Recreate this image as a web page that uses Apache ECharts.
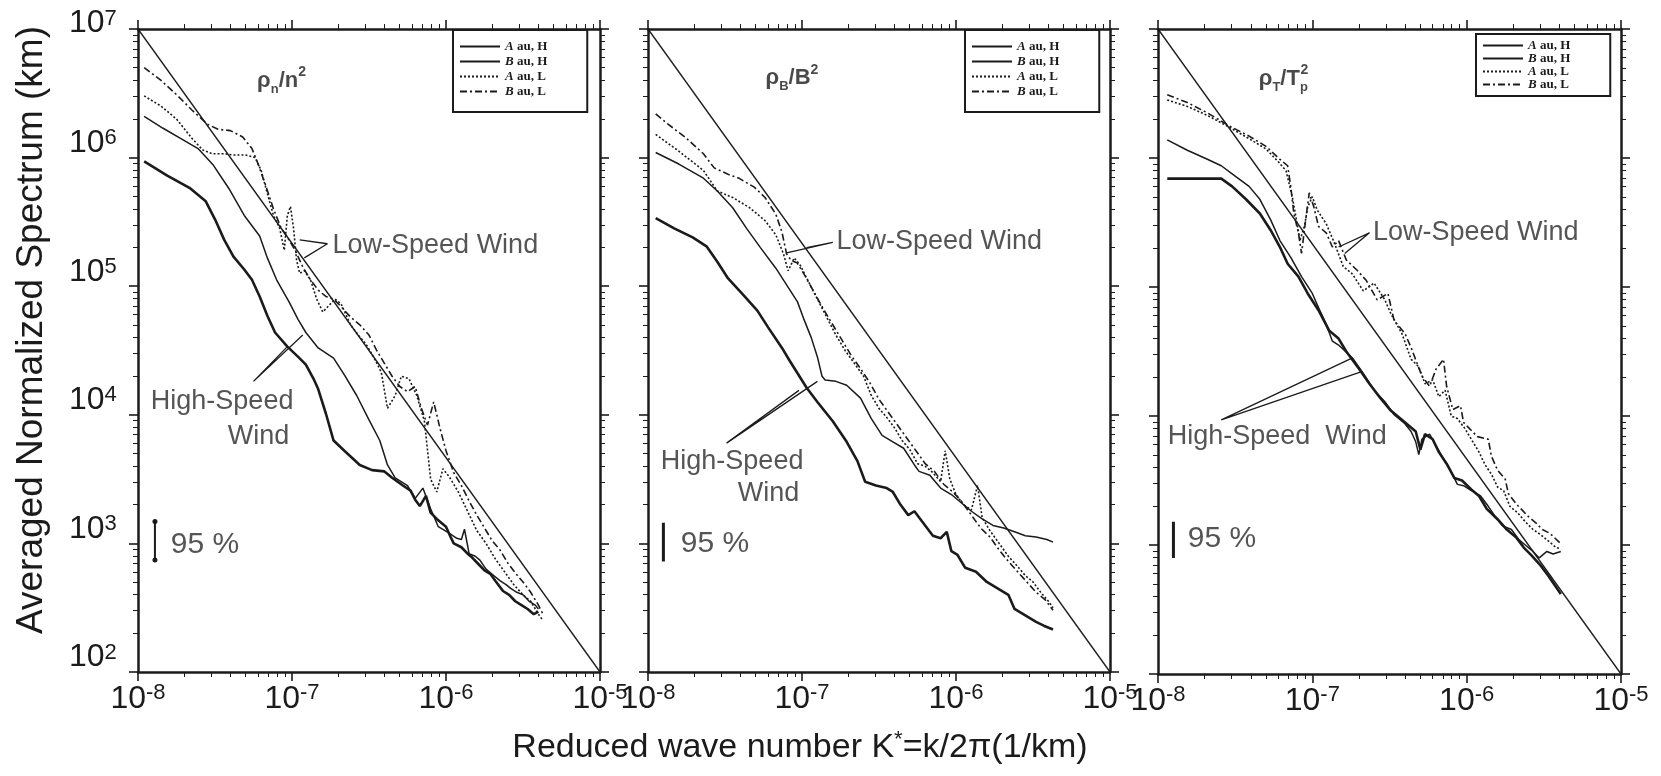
<!DOCTYPE html>
<html>
<head>
<meta charset="utf-8">
<title>Averaged normalized spectra</title>
<script src="https://cdn.jsdelivr.net/npm/echarts@6/dist/echarts.min.js"></script>
<style>
  html, body { margin: 0; padding: 0; background: #fff; }
  #chart { width: 1661px; height: 776px; }
</style>
</head>
<body>
<div id="chart"></div>
<script>
// every curve is kept as [log10 k*, log10 spectrum] pairs
const K_RANGE = [-8, -5];
const S_RANGE = [2, 7];
const LEGEND_NAMES = ['A au, H', 'B au, H', 'A au, L', 'B au, L'];
const REF_LINE = [[-8, 7], [-5, 2]];

// panel 1 : rho_n / n^2
const n_AH = [[-7.96,5.97],[-7.81,5.86],[-7.66,5.76],[-7.56,5.66],[-7.50,5.52],[-7.44,5.36],[-7.38,5.23],[-7.31,5.13],[-7.26,5.05],[-7.21,4.92],[-7.16,4.77],[-7.11,4.64],[-7.03,4.53],[-6.96,4.45],[-6.91,4.39],[-6.86,4.28],[-6.83,4.20],[-6.78,4.01],[-6.73,3.80],[-6.66,3.72],[-6.56,3.61],[-6.48,3.57],[-6.40,3.56],[-6.35,3.51],[-6.28,3.45],[-6.23,3.41],[-6.20,3.34],[-6.17,3.29],[-6.13,3.37],[-6.10,3.24],[-6.06,3.19],[-6.00,3.13],[-5.97,3.05],[-5.95,3.00],[-5.90,2.97],[-5.86,2.92],[-5.83,2.89],[-5.79,2.84],[-5.75,2.79],[-5.71,2.76],[-5.68,2.71],[-5.63,2.63],[-5.59,2.60],[-5.55,2.55],[-5.51,2.52],[-5.47,2.49],[-5.43,2.45],[-5.40,2.47]];
const n_BH = [[-7.96,6.32],[-7.84,6.23],[-7.71,6.14],[-7.61,6.07],[-7.51,5.94],[-7.41,5.76],[-7.31,5.55],[-7.21,5.39],[-7.16,5.22],[-7.10,5.05],[-7.02,4.88],[-6.96,4.74],[-6.91,4.64],[-6.83,4.52],[-6.73,4.44],[-6.66,4.31],[-6.58,4.15],[-6.50,3.96],[-6.43,3.80],[-6.38,3.61],[-6.33,3.51],[-6.25,3.45],[-6.20,3.35],[-6.15,3.43],[-6.10,3.27],[-6.05,3.13],[-5.98,3.08],[-5.93,3.04],[-5.90,3.03],[-5.88,3.11],[-5.85,2.92],[-5.81,2.90],[-5.78,2.87],[-5.74,2.80],[-5.70,2.76],[-5.65,2.71],[-5.61,2.68],[-5.58,2.65],[-5.54,2.62],[-5.50,2.60],[-5.46,2.55],[-5.42,2.52],[-5.40,2.49]];
const n_AL = [[-7.96,6.48],[-7.85,6.40],[-7.75,6.30],[-7.65,6.15],[-7.58,6.06],[-7.52,6.03],[-7.45,6.03],[-7.38,6.02],[-7.30,6.02],[-7.24,6.00],[-7.20,5.90],[-7.16,5.72],[-7.12,5.55],[-7.08,5.45],[-7.05,5.28],[-7.03,5.55],[-7.01,5.62],[-6.99,5.45],[-6.97,5.20],[-6.95,5.10],[-6.92,5.12],[-6.88,5.05],[-6.84,4.90],[-6.80,4.80],[-6.76,4.85],[-6.72,4.90],[-6.68,4.86],[-6.62,4.70],[-6.57,4.62],[-6.52,4.55],[-6.47,4.45],[-6.42,4.33],[-6.38,4.05],[-6.33,4.15],[-6.29,4.30],[-6.24,4.28],[-6.19,4.15],[-6.14,3.95],[-6.10,3.50],[-6.06,3.40],[-6.02,3.58],[-5.98,3.52],[-5.92,3.40],[-5.86,3.25],[-5.80,3.10],[-5.74,3.00],[-5.68,2.88],[-5.62,2.78],[-5.56,2.68],[-5.50,2.60],[-5.45,2.55],[-5.40,2.45],[-5.37,2.40]];
const n_BL = [[-7.96,6.70],[-7.85,6.60],[-7.75,6.49],[-7.65,6.37],[-7.55,6.26],[-7.48,6.22],[-7.40,6.21],[-7.32,6.16],[-7.26,6.07],[-7.22,5.95],[-7.17,5.78],[-7.12,5.60],[-7.07,5.45],[-7.03,5.38],[-6.98,5.28],[-6.93,5.15],[-6.88,5.05],[-6.83,4.97],[-6.78,4.92],[-6.73,4.90],[-6.68,4.84],[-6.62,4.76],[-6.56,4.70],[-6.50,4.62],[-6.45,4.50],[-6.40,4.40],[-6.35,4.30],[-6.30,4.22],[-6.25,4.18],[-6.20,4.22],[-6.16,4.05],[-6.12,3.92],[-6.08,4.10],[-6.04,3.90],[-6.00,3.72],[-5.95,3.55],[-5.90,3.45],[-5.85,3.33],[-5.80,3.22],[-5.75,3.12],[-5.70,3.02],[-5.65,2.95],[-5.60,2.85],[-5.55,2.77],[-5.50,2.70],[-5.45,2.62],[-5.40,2.52],[-5.37,2.45]];

// panel 2 : rho_B / B^2
const b_AH = [[-7.95,5.53],[-7.83,5.45],[-7.71,5.38],[-7.62,5.31],[-7.55,5.19],[-7.48,5.06],[-7.38,4.93],[-7.29,4.81],[-7.22,4.68],[-7.13,4.52],[-7.08,4.42],[-6.97,4.21],[-6.90,4.10],[-6.80,3.95],[-6.71,3.79],[-6.64,3.64],[-6.59,3.48],[-6.52,3.45],[-6.45,3.43],[-6.41,3.40],[-6.36,3.30],[-6.31,3.22],[-6.27,3.25],[-6.22,3.17],[-6.15,3.06],[-6.10,3.04],[-6.06,3.09],[-6.03,2.94],[-5.99,2.91],[-5.94,2.81],[-5.87,2.78],[-5.80,2.70],[-5.73,2.65],[-5.66,2.60],[-5.62,2.49],[-5.55,2.44],[-5.48,2.39],[-5.43,2.36],[-5.37,2.33]];
const b_BH = [[-7.95,6.04],[-7.80,5.95],[-7.64,5.84],[-7.55,5.74],[-7.45,5.61],[-7.36,5.45],[-7.27,5.30],[-7.17,5.14],[-7.10,5.01],[-7.03,4.88],[-6.99,4.75],[-6.94,4.60],[-6.90,4.45],[-6.87,4.30],[-6.85,4.27],[-6.78,4.26],[-6.71,4.23],[-6.62,4.13],[-6.55,3.97],[-6.48,3.84],[-6.41,3.79],[-6.34,3.74],[-6.27,3.61],[-6.24,3.56],[-6.17,3.53],[-6.10,3.43],[-6.03,3.38],[-5.97,3.32],[-5.90,3.25],[-5.83,3.19],[-5.76,3.14],[-5.69,3.12],[-5.62,3.09],[-5.55,3.06],[-5.48,3.05],[-5.41,3.03],[-5.37,3.01]];
const b_AL = [[-7.95,6.18],[-7.80,6.05],[-7.64,5.90],[-7.55,5.74],[-7.45,5.69],[-7.34,5.61],[-7.24,5.51],[-7.17,5.40],[-7.12,5.25],[-7.09,5.12],[-7.05,5.22],[-7.01,5.16],[-6.96,5.04],[-6.90,4.90],[-6.84,4.76],[-6.78,4.62],[-6.72,4.50],[-6.66,4.40],[-6.60,4.30],[-6.55,4.15],[-6.50,4.05],[-6.45,3.98],[-6.40,3.90],[-6.35,3.80],[-6.30,3.73],[-6.25,3.62],[-6.20,3.60],[-6.15,3.55],[-6.10,3.48],[-6.07,3.72],[-6.04,3.50],[-6.00,3.38],[-5.95,3.30],[-5.90,3.26],[-5.86,3.45],[-5.83,3.20],[-5.78,3.10],[-5.72,3.00],[-5.66,2.90],[-5.60,2.82],[-5.55,2.75],[-5.50,2.70],[-5.45,2.62],[-5.40,2.55],[-5.37,2.50]];
const b_BL = [[-7.95,6.34],[-7.87,6.26],[-7.76,6.16],[-7.64,6.03],[-7.57,5.92],[-7.48,5.87],[-7.41,5.84],[-7.31,5.77],[-7.24,5.69],[-7.17,5.56],[-7.13,5.42],[-7.10,5.25],[-7.07,5.20],[-7.03,5.18],[-6.98,5.08],[-6.92,4.95],[-6.86,4.82],[-6.80,4.70],[-6.74,4.58],[-6.68,4.46],[-6.62,4.36],[-6.56,4.25],[-6.50,4.12],[-6.44,4.02],[-6.38,3.92],[-6.32,3.82],[-6.26,3.72],[-6.20,3.62],[-6.14,3.56],[-6.08,3.46],[-6.02,3.40],[-5.96,3.32],[-5.90,3.22],[-5.84,3.12],[-5.78,3.05],[-5.72,2.95],[-5.66,2.86],[-5.60,2.78],[-5.54,2.70],[-5.48,2.62],[-5.42,2.56],[-5.37,2.48]];

// panel 3 : rho_T / Tp^2
const t_AH = [[-7.94,5.84],[-7.59,5.84],[-7.52,5.78],[-7.43,5.68],[-7.34,5.57],[-7.27,5.44],[-7.21,5.31],[-7.16,5.18],[-7.09,5.08],[-7.03,4.95],[-6.96,4.82],[-6.89,4.66],[-6.83,4.60],[-6.78,4.50],[-6.70,4.37],[-6.63,4.25],[-6.56,4.14],[-6.49,4.04],[-6.42,3.97],[-6.37,3.92],[-6.33,3.88],[-6.30,3.74],[-6.27,3.86],[-6.22,3.82],[-6.18,3.72],[-6.13,3.63],[-6.08,3.52],[-6.03,3.50],[-5.97,3.43],[-5.92,3.38],[-5.87,3.28],[-5.80,3.20],[-5.74,3.12],[-5.68,3.06],[-5.63,2.98],[-5.58,2.92],[-5.52,2.84],[-5.47,2.76],[-5.43,2.69],[-5.39,2.62]];
const t_BH = [[-7.94,6.14],[-7.81,6.06],[-7.68,5.99],[-7.59,5.94],[-7.50,5.86],[-7.41,5.78],[-7.34,5.68],[-7.27,5.52],[-7.21,5.36],[-7.14,5.23],[-7.07,5.08],[-7.00,4.95],[-6.96,4.84],[-6.91,4.71],[-6.87,4.58],[-6.83,4.55],[-6.74,4.45],[-6.67,4.33],[-6.60,4.20],[-6.53,4.11],[-6.47,4.01],[-6.40,3.94],[-6.36,3.88],[-6.33,3.80],[-6.31,3.70],[-6.29,3.82],[-6.24,3.86],[-6.20,3.77],[-6.15,3.67],[-6.11,3.59],[-6.06,3.47],[-6.02,3.46],[-5.98,3.43],[-5.91,3.38],[-5.86,3.30],[-5.82,3.23],[-5.77,3.15],[-5.71,3.12],[-5.66,3.04],[-5.62,3.00],[-5.57,2.95],[-5.53,2.90],[-5.48,2.95],[-5.44,2.93],[-5.39,2.95]];
const t_AL = [[-7.94,6.45],[-7.81,6.40],[-7.68,6.33],[-7.54,6.24],[-7.41,6.15],[-7.30,6.07],[-7.22,5.97],[-7.17,5.90],[-7.13,5.70],[-7.10,5.50],[-7.08,5.36],[-7.05,5.48],[-7.03,5.62],[-7.00,5.70],[-6.97,5.60],[-6.91,5.49],[-6.86,5.35],[-6.80,5.16],[-6.74,5.10],[-6.67,4.97],[-6.60,5.03],[-6.53,4.90],[-6.49,4.79],[-6.42,4.64],[-6.36,4.44],[-6.31,4.38],[-6.27,4.25],[-6.22,4.28],[-6.18,4.15],[-6.14,4.20],[-6.10,4.00],[-6.06,3.98],[-6.01,3.90],[-5.96,3.80],[-5.92,3.72],[-5.88,3.62],[-5.84,3.55],[-5.80,3.45],[-5.76,3.42],[-5.72,3.30],[-5.67,3.25],[-5.62,3.18],[-5.57,3.12],[-5.52,3.08],[-5.47,3.03],[-5.42,2.98],[-5.39,2.97]];
const t_BL = [[-7.94,6.49],[-7.81,6.43],[-7.68,6.35],[-7.54,6.25],[-7.41,6.17],[-7.30,6.09],[-7.21,5.99],[-7.16,5.94],[-7.14,5.78],[-7.12,5.57],[-7.09,5.42],[-7.07,5.26],[-7.04,5.55],[-7.02,5.73],[-6.99,5.62],[-6.96,5.47],[-6.91,5.42],[-6.87,5.31],[-6.83,5.36],[-6.78,5.21],[-6.71,5.13],[-6.65,5.05],[-6.58,4.90],[-6.51,4.95],[-6.47,4.74],[-6.40,4.64],[-6.36,4.53],[-6.29,4.31],[-6.24,4.23],[-6.20,4.36],[-6.15,4.44],[-6.13,4.23],[-6.09,4.05],[-6.04,4.08],[-6.02,3.95],[-5.98,3.90],[-5.93,3.84],[-5.86,3.82],[-5.84,3.69],[-5.80,3.58],[-5.75,3.51],[-5.73,3.40],[-5.68,3.32],[-5.64,3.27],[-5.60,3.22],[-5.55,3.17],[-5.51,3.12],[-5.46,3.09],[-5.39,3.01]];

// 95 % error bars
const ERR_BARS = [
  [[-7.89, 3.17], [-7.89, 2.87]],
  [[-7.90, 3.16], [-7.90, 2.86]],
  [[-7.90, 3.18], [-7.90, 2.90]]
];

const INK = '#1b1b1b';
const SANS = '"Liberation Sans", Arial, sans-serif';
const SERIF = '"Liberation Serif", "Times New Roman", serif';

const GRIDS = [
  { left: 138, top: 29, width: 462, height: 643 },
  { left: 648, top: 29, width: 462, height: 643 },
  { left: 1158, top: 29, width: 463, height: 645 }
];

const CURVE_STYLES = [
  { width: 2.6, type: 'solid' },
  { width: 1.5, type: 'solid' },
  { width: 1.6, type: [2, 2] },
  { width: 1.6, type: [7, 3, 2, 3] }
];

// annotation placement, in the same log units as the data
const PANELS = [
  {
    curves: [n_AH, n_BH, n_AL, n_BL],
    title: '{b|ρ}{sub|n}{b|/n}{sup|2}', titleAt: [-7.23, 6.60],
    low: { at: [-6.74, 5.32], lines: [[-6.95, 5.36], [-6.77, 5.33], [-6.92, 5.22]] },
    high: [{ text: 'High-Speed', at: [-7.92, 4.10] }, { text: 'Wind', at: [-7.42, 3.83] }],
    highLines: [[-7.03, 4.53], [-7.25, 4.26], [-6.93, 4.62]],
    pct: [-7.79, 2.99], arrows: true,
    legend: { left: 453, top: 30, padding: [10, 40, 14, 6], itemGap: 2 }
  },
  {
    curves: [b_AH, b_BH, b_AL, b_BL],
    title: '{b|ρ}{sub|B}{b|/B}{sup|2}', titleAt: [-7.24, 6.62],
    low: { at: [-6.78, 5.35], lines: [[-7.10, 5.26], [-6.80, 5.34], [-6.97, 5.30]] },
    high: [{ text: 'High-Speed', at: [-7.92, 3.64] }, { text: 'Wind', at: [-7.42, 3.39] }],
    highLines: [[-7.02, 4.19], [-7.49, 3.78], [-6.90, 4.26]],
    pct: [-7.79, 3.0], arrows: false,
    legend: { left: 965, top: 30, padding: [10, 40, 14, 6], itemGap: 2 }
  },
  {
    curves: [t_AH, t_BH, t_AL, t_BL],
    title: '{b|ρ}{sub|T}{b|/T}{sub|p}', titleAt: [-7.35, 6.61], sup2At: [-7.08, 6.61],
    low: { at: [-6.61, 5.42], lines: [[-6.83, 5.31], [-6.63, 5.42], [-6.79, 5.26]] },
    high: [{ text: 'High-Speed  Wind', at: [-7.94, 3.84] }],
    highLines: [[-6.74, 4.45], [-7.59, 3.97], [-6.69, 4.34]],
    pct: [-7.81, 3.05], arrows: false,
    legend: { left: 1476, top: 34, padding: [5, 40, 5, 6], itemGap: 0 }
  }
];

const toXY = arr => arr.map(p => [Math.pow(10, p[0]), Math.pow(10, p[1])]);
const expOf = v => Math.round(Math.log10(v));

// tick labels are "10" with a raised exponent; on the y axis an empty spacer
// token makes the line taller so the top-aligned digits sit above the tick
const labelRich = {
  b: { fontSize: 32, fontFamily: SANS, color: INK, lineHeight: 35 },
  s: { fontSize: 22, fontFamily: SANS, color: INK, lineHeight: 20, verticalAlign: 'top' },
  yb: { fontSize: 32, fontFamily: SANS, color: INK, lineHeight: 35, verticalAlign: 'top' },
  sp: { fontSize: 1, lineHeight: 61 },
  spTop: { fontSize: 1, lineHeight: 43 }
};

function makeAxis(dim, gridIndex, position, showLabel) {
  const range = dim === 'x' ? K_RANGE : S_RANGE;
  return {
    type: 'log',
    logBase: 10,
    gridIndex: gridIndex,
    position: position,
    min: Math.pow(10, range[0]),
    max: Math.pow(10, range[1]),
    axisLine: { show: true, onZero: false, lineStyle: { color: INK, width: 2.5 } },
    axisTick: { show: true, inside: false, length: 9, lineStyle: { color: INK, width: 1.6 } },
    minorTick: { show: true, splitNumber: 9, length: 5, lineStyle: { color: INK, width: 1 } },
    splitLine: { show: false },
    axisLabel: {
      show: showLabel,
      margin: dim === 'x' ? 10 : 21,
      formatter: v => {
        const e = expOf(v);
        if (dim === 'x') return '{b|10}{s|' + e + '}';
        return '{yb|10}{s|' + e + '}' + (e === range[1] ? '{spTop| }' : '{sp| }');
      },
      rich: labelRich
    }
  };
}

const xAxes = [], yAxes = [], series = [];

PANELS.forEach((p, i) => {
  xAxes.push(makeAxis('x', i, 'bottom', true));
  xAxes.push(makeAxis('x', i, 'top', false));
  yAxes.push(makeAxis('y', i, 'left', i === 0));
  yAxes.push(makeAxis('y', i, 'right', false));
  const base = { xAxisIndex: 2 * i, yAxisIndex: 2 * i, silent: true, animation: false };

  series.push(Object.assign({}, base, {
    type: 'line', name: 'ref', data: toXY(REF_LINE), symbol: 'none',
    lineStyle: { color: INK, width: 1.3 }
  }));

  p.curves.forEach((c, j) => {
    series.push(Object.assign({}, base, {
      type: 'line', name: LEGEND_NAMES[j], data: toXY(c), symbol: 'none',
      itemStyle: { color: INK },
      lineStyle: { color: INK, width: CURVE_STYLES[j].width, type: CURVE_STYLES[j].type }
    }));
  });

  // pointer lines for the annotations
  [p.low.lines, p.highLines].forEach(pts => {
    series.push(Object.assign({}, base, {
      type: 'line', name: 'pointer', data: toXY(pts), symbol: 'none',
      lineStyle: { color: INK, width: 1.3 }
    }));
  });

  // 95 % bar
  series.push(Object.assign({}, base, {
    type: 'line', name: 'err', data: toXY(ERR_BARS[i]),
    symbol: p.arrows ? 'circle' : 'none', symbolSize: 5,
    itemStyle: { color: INK },
    lineStyle: { color: INK, width: p.arrows ? 2 : 3 }
  }));

  const notes = [
    { at: p.low.at, text: 'Low-Speed Wind', size: 27 },
    { at: p.pct, text: '95 %', size: 30 }
  ].concat(p.high.map(h => ({ at: h.at, text: h.text, size: 27 })));

  notes.forEach(n => {
    series.push(Object.assign({}, base, {
      type: 'scatter', name: 'note', data: toXY([n.at]), symbolSize: 1,
      itemStyle: { color: 'rgba(0,0,0,0)' },
      label: {
        show: true, position: 'right', distance: 0, formatter: n.text,
        fontFamily: SANS, fontSize: n.size, color: '#2a2a2a'
      }
    }));
  });

  const titleRich = {
    b: { fontSize: 22, fontWeight: 'bold', fontFamily: SANS, color: INK, lineHeight: 30 },
    sub: { fontSize: 13, fontWeight: 'bold', fontFamily: SANS, color: INK, lineHeight: 14, verticalAlign: 'bottom' },
    sup: { fontSize: 14, fontWeight: 'bold', fontFamily: SANS, color: INK, lineHeight: 14, verticalAlign: 'top' }
  };
  series.push(Object.assign({}, base, {
    type: 'scatter', name: 'title', data: toXY([p.titleAt]), symbolSize: 1,
    itemStyle: { color: 'rgba(0,0,0,0)' },
    label: { show: true, position: 'right', distance: 0, formatter: p.title, rich: titleRich }
  }));
  if (p.sup2At) {
    series.push(Object.assign({}, base, {
      type: 'scatter', name: 'title', data: toXY([p.sup2At]), symbolSize: 1,
      itemStyle: { color: 'rgba(0,0,0,0)' },
      label: {
        show: true, position: 'right', distance: 0, offset: [0, -9], formatter: '2',
        fontSize: 14, fontWeight: 'bold', fontFamily: SANS, color: INK
      }
    }));
  }
});

const chart = echarts.init(document.getElementById('chart'), null, { renderer: 'canvas' });

chart.setOption({
  backgroundColor: '#fff',
  animation: false,
  grid: GRIDS.map(g => Object.assign({ containLabel: false, outerBoundsMode: 'none' }, g)),
  xAxis: xAxes,
  yAxis: yAxes,
  legend: PANELS.map(p => ({
    data: LEGEND_NAMES,
    orient: 'vertical',
    left: p.legend.left,
    top: p.legend.top,
    itemWidth: 40,
    itemHeight: 10,
    itemGap: p.legend.itemGap,
    itemTextGap: 9,
    padding: p.legend.padding,
    borderColor: INK,
    borderWidth: 2,
    selectedMode: false,
    itemStyle: { opacity: 0 },
    formatter: name => '{i|' + name.charAt(0) + '}{t|' + name.slice(1) + '}',
    textStyle: {
      fontFamily: SERIF, fontWeight: 'bold', fontSize: 13, color: INK, lineHeight: 13,
      rich: {
        i: { fontFamily: SERIF, fontStyle: 'italic', fontWeight: 'bold', fontSize: 13, color: INK, lineHeight: 13 },
        t: { fontFamily: SERIF, fontWeight: 'bold', fontSize: 13, color: INK, lineHeight: 13 }
      }
    }
  })),
  graphic: [
    {
      type: 'text', x: 32, y: 330, rotation: Math.PI / 2,
      style: {
        text: 'Averaged Normalized Spectrum (km)', fill: INK,
        font: '37px ' + SANS, align: 'center', verticalAlign: 'middle'
      }
    },
    {
      type: 'text', x: 800, y: 748,
      style: {
        text: '{n|Reduced wave number K}{s|*}{n|=k/2π(1/km)}',
        align: 'center', verticalAlign: 'middle',
        rich: {
          n: { fontSize: 34, fontFamily: SANS, fill: INK, lineHeight: 38 },
          s: { fontSize: 22, fontFamily: SANS, fill: INK, lineHeight: 20, verticalAlign: 'top' }
        }
      }
    }
  ],
  series: series
});
</script>
</body>
</html>
